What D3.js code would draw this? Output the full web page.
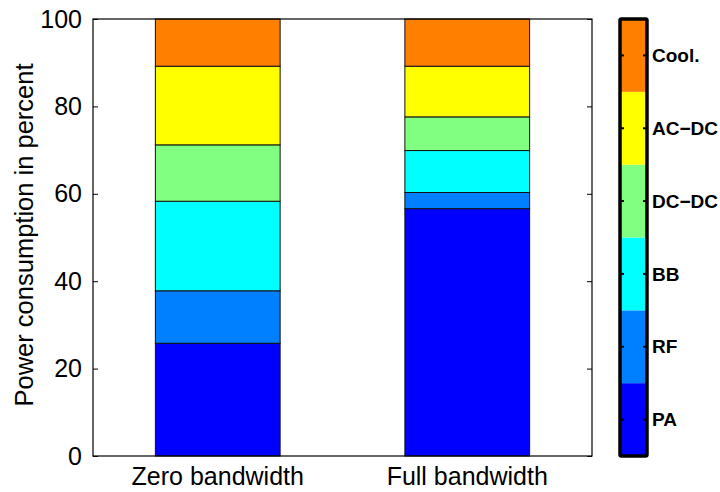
<!DOCTYPE html>
<html>
<head>
<meta charset="utf-8">
<script src="https://cdn.jsdelivr.net/npm/d3@7"></script>
<style>
  body { margin: 0; background: #fff; }
  svg { display: block; font-family: "Liberation Sans", Arial, Helvetica, sans-serif; }
</style>
</head>
<body>
<div id="chart"></div>
<script>
// categories and stacked components (percent), bottom to top
const categories = ['Zero bandwidth', 'Full bandwidth'];
const components = ['PA', 'RF', 'BB', 'DC\u2212DC', 'AC\u2212DC', 'Cool.'];
const colors = ['#0000ff', '#0080ff', '#00ffff', '#80ff80', '#ffff00', '#ff8000'];
const zeroBandwidth = [25.8, 12.0, 20.5, 12.9, 18.0, 10.8];
const fullBandwidth = [56.6, 3.7, 9.6, 7.7, 11.6, 10.8];
const yTicks = [0, 20, 40, 60, 80, 100];

const W = 720, H = 492;
const plot = { left: 93, right: 592, top: 19, bottom: 456 };

const svg = d3.select('#chart').append('svg')
    .attr('width', W)
    .attr('height', H);

const x = d3.scaleLinear().domain([0.5, 2.5]).range([plot.left, plot.right]);
const y = d3.scaleLinear().domain([0, 100]).range([plot.bottom, plot.top]);
const barW = x(1.5) - x(1);

// build stacked table
const table = categories.map((c, i) => {
    const row = { category: c, pos: i + 1 };
    const vals = i === 0 ? zeroBandwidth : fullBandwidth;
    components.forEach((k, j) => { row[k] = vals[j]; });
    return row;
});
const stacked = d3.stack().keys(components)(table);

svg.append('g').selectAll('g')
    .data(stacked)
    .join('g')
    .attr('fill', (d, i) => colors[i])
    .selectAll('rect')
    .data(d => d)
    .join('rect')
    .attr('x', d => x(d.data.pos) - barW / 2)
    .attr('width', barW)
    .attr('y', d => y(d[1]))
    .attr('height', d => y(d[0]) - y(d[1]))
    .attr('stroke', '#111')
    .attr('stroke-width', 1);

// axes box
svg.append('rect')
    .attr('x', plot.left)
    .attr('y', plot.top)
    .attr('width', plot.right - plot.left)
    .attr('height', plot.bottom - plot.top)
    .attr('fill', 'none')
    .attr('stroke', '#000')
    .attr('stroke-width', 1.2);

// left axis, ticks pointing inward
const yAxisL = svg.append('g')
    .attr('transform', `translate(${plot.left},0)`)
    .call(d3.axisLeft(y).tickValues(yTicks).tickSize(-5).tickPadding(11));
yAxisL.select('.domain').remove();
yAxisL.selectAll('text').attr('font-size', 25).attr('fill', '#000').attr('font-family', null);

// right axis, ticks only
const yAxisR = svg.append('g')
    .attr('transform', `translate(${plot.right},0)`)
    .call(d3.axisRight(y).tickValues(yTicks).tickSize(-5).tickFormat(''));
yAxisR.select('.domain').remove();

// category labels
svg.append('g').selectAll('text')
    .data(table)
    .join('text')
    .attr('x', d => x(d.pos))
    .attr('y', 485)
    .attr('text-anchor', 'middle')
    .attr('font-size', 25)
    .text(d => d.category);

// y label
svg.append('text')
    .attr('transform', `translate(33,235) rotate(-90)`)
    .attr('text-anchor', 'middle')
    .attr('font-size', 25.5)
    .text('Power consumption in percent');

// colorbar
const cb = { left: 620, right: 647, top: 19, bottom: 456 };
const cbScale = d3.scaleBand().domain(components).range([cb.bottom, cb.top]);

svg.append('g').selectAll('rect')
    .data(components)
    .join('rect')
    .attr('x', cb.left)
    .attr('width', cb.right - cb.left)
    .attr('y', d => cbScale(d))
    .attr('height', cbScale.bandwidth())
    .attr('fill', (d, i) => colors[i]);

const cbTicks = svg.append('g');
components.forEach(k => {
    const cy = cbScale(k) + cbScale.bandwidth() / 2;
    cbTicks.append('line')
        .attr('x1', cb.left).attr('x2', cb.left + 4)
        .attr('y1', cy).attr('y2', cy)
        .attr('stroke', '#000').attr('stroke-width', 2);
    cbTicks.append('line')
        .attr('x1', cb.right - 4).attr('x2', cb.right)
        .attr('y1', cy).attr('y2', cy)
        .attr('stroke', '#000').attr('stroke-width', 2);
    cbTicks.append('text')
        .attr('x', cb.right + 5)
        .attr('y', cy)
        .attr('dy', '0.35em')
        .attr('font-size', 19)
        .attr('font-weight', 'bold')
        .text(k);
});

svg.append('rect')
    .attr('x', cb.left)
    .attr('y', cb.top)
    .attr('width', cb.right - cb.left)
    .attr('height', cb.bottom - cb.top)
    .attr('fill', 'none')
    .attr('stroke', '#000')
    .attr('stroke-width', 3.5)
    .attr('rx', 1.5);
</script>
</body>
</html>
